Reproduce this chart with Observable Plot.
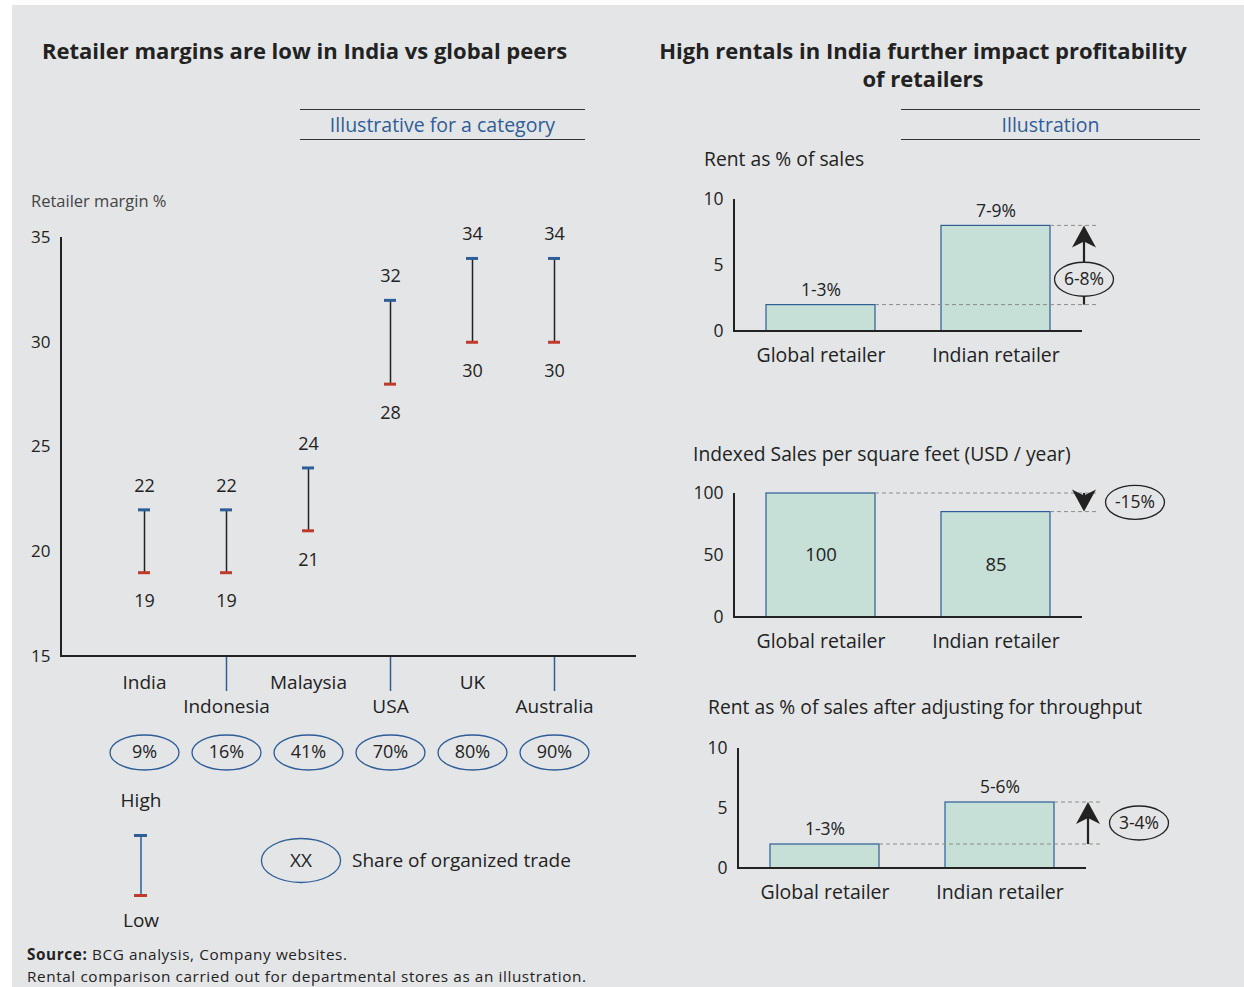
<!DOCTYPE html>
<html>
<head>
<meta charset="utf-8">
<script src="https://cdn.jsdelivr.net/npm/d3@7"></script>
<script src="https://cdn.jsdelivr.net/npm/@observablehq/plot@0.6"></script>
<style>
  body { margin: 0; background: #ffffff; font-family: "Open Sans", Lato, sans-serif; color: #222; }
  #page { position: relative; width: 1244px; height: 987px; overflow: hidden; }
  #panel { position: absolute; left: 12px; top: 5px; width: 1232px; height: 982px; background: #e4e5e7; }
  .t { position: absolute; white-space: nowrap; }
  .title { font-weight: 700; font-size: 22px; line-height: 28px; color: #222; }
  .badge { position: absolute; border-top: 1.5px solid #333; border-bottom: 1.5px solid #333; color: #2e5d97; text-align: center; font-size: 19.5px; line-height: 29px; height: 29px; }
  .sub { font-size: 19.3px; line-height: 22px; color: #222; }
  .src { font-size: 15.3px; line-height: 21px; letter-spacing: 0.6px; color: #222; }
  svg { overflow: visible; }
</style>
</head>
<body>
<div id="page">
  <div id="panel"></div>
  <div class="t title" style="left:42px;top:36px;">Retailer margins are low in India vs global peers</div>
  <div class="t title" style="left:623px;top:36px;width:600px;text-align:center;">High rentals in India further impact profitability<br>of retailers</div>
  <div class="badge" style="left:300px;top:109px;width:285px;">Illustrative for a category</div>
  <div class="badge" style="left:901px;top:109px;width:299px;">Illustration</div>
  <div class="t" style="left:31px;top:191px;font-size:16.5px;line-height:20px;color:#444;">Retailer margin %</div>
  <div class="t sub" style="left:704px;top:148px;">Rent as % of sales</div>
  <div class="t sub" style="left:693px;top:443px;">Indexed Sales per square feet (USD / year)</div>
  <div class="t sub" style="left:708px;top:696px;">Rent as % of sales after adjusting for throughput</div>
  <div class="t src" style="left:27px;top:944px;"><b>Source:</b> BCG analysis, Company websites.</div>
  <div class="t src" style="left:27px;top:966px;">Rental comparison carried out for departmental stores as an illustration.</div>
</div>
<script>
const FONT = "'Open Sans', Lato, sans-serif";
const BLUE = "#2e5d97", RED = "#c0392b", BAR = "#c6dfd7", BG = "#e4e5e7", INK = "#222";

// ---- Left chart data ----
const countries = ["India", "Indonesia", "Malaysia", "USA", "UK", "Australia"];
const marginHigh = [22, 22, 24, 32, 34, 34];
const marginLow = [19, 19, 21, 28, 30, 30];
const organizedShare = [9, 16, 41, 70, 80, 90];
const lowerRowCountries = ["Indonesia", "USA", "Australia"];
const marginTicks = [15, 20, 25, 30, 35];

// ---- Legend ----
const legendLevels = ["High", "Low"];
const legendLevelValues = [1, 0];
const legendKeyText = "XX";
const legendKeyLabel = "Share of organized trade";

// ---- Right charts data ----
const retailers = ["Global retailer", "Indian retailer"];
const rentValues = [2, 8];
const rentLabels = ["1-3%", "7-9%"];
const rentDelta = "6-8%";
const salesValues = [100, 85];
const salesLabels = ["100", "85"];
const salesDelta = "-15%";
const adjValues = [2, 5.5];
const adjLabels = ["1-3%", "5-6%"];
const adjDelta = "3-4%";

const page = document.getElementById("page");
function place(node, left, top) {
  const d = document.createElement("div");
  d.style.cssText = `position:absolute;left:${left}px;top:${top}px;`;
  d.appendChild(node);
  page.appendChild(d);
}

function ellipseSymbol(aspect) {
  return {
    draw(ctx, size) {
      const ry = Math.sqrt(size / Math.PI), rx = ry * aspect, k = 0.5523;
      ctx.moveTo(rx, 0);
      ctx.bezierCurveTo(rx, k * ry, k * rx, ry, 0, ry);
      ctx.bezierCurveTo(-k * rx, ry, -rx, k * ry, -rx, 0);
      ctx.bezierCurveTo(-rx, -k * ry, -k * rx, -ry, 0, -ry);
      ctx.bezierCurveTo(k * rx, -ry, rx, -k * ry, rx, 0);
      ctx.closePath();
    }
  };
}

function frameLines(width = 2) {
  return (index, scales, values, dims) => {
    const p = d3.create("svg:path")
      .attr("d", `M${dims.marginLeft},${dims.marginTop}V${dims.height - dims.marginBottom}H${dims.width - dims.marginRight}`)
      .attr("fill", "none").attr("stroke", INK).attr("stroke-width", width);
    return p.node();
  };
}

// ---- Left chart ----
const rows = countries.map((c, i) => ({country: c, high: marginHigh[i], low: marginLow[i], share: organizedShare[i]}));
const upperRow = rows.filter(d => !lowerRowCountries.includes(d.country));
const lowerRow = rows.filter(d => lowerRowCountries.includes(d.country));

const left = Plot.plot({
  width: 640, height: 580,
  marginTop: 37, marginLeft: 61, marginRight: 4, marginBottom: 124,
  style: {background: "transparent", fontFamily: FONT, fontSize: "18px", color: INK, overflow: "visible"},
  x: {type: "band", domain: countries, paddingInner: 0, paddingOuter: 0.48},
  y: {domain: [15, 35]},
  marks: [
    Plot.axisY({ticks: marginTicks, tickSize: 0, tickPadding: 11, label: null, fontSize: 17}),
    Plot.axisX({ticks: lowerRowCountries, tickSize: 35, tickFormat: () => "", stroke: BLUE, strokeWidth: 1.5, label: null}),
    Plot.text(upperRow, {x: "country", text: "country", frameAnchor: "bottom", lineAnchor: "middle", dy: 26, fontSize: 19}),
    Plot.text(lowerRow, {x: "country", text: "country", frameAnchor: "bottom", lineAnchor: "middle", dy: 50, fontSize: 19}),
    frameLines(2),
    Plot.ruleX(rows, {x: "country", y1: "low", y2: "high", stroke: INK, strokeWidth: 1.5}),
    Plot.tickY(rows, {x: "country", y: "high", stroke: BLUE, strokeWidth: 3, insetLeft: 35, insetRight: 35}),
    Plot.tickY(rows, {x: "country", y: "low", stroke: RED, strokeWidth: 3, insetLeft: 35, insetRight: 35}),
    Plot.text(rows, {x: "country", y: "high", text: d => String(d.high), dy: -24}),
    Plot.text(rows, {x: "country", y: "low", text: d => String(d.low), dy: 29}),
    Plot.dot(rows, {x: "country", frameAnchor: "bottom", dy: 96, r: 17.5, symbol: ellipseSymbol(1.97), fill: "none", stroke: BLUE, strokeWidth: 1.3}),
    Plot.text(rows, {x: "country", frameAnchor: "bottom", lineAnchor: "middle", dy: 96, text: d => d.share + "%", fontSize: 18})
  ]
});
place(left, 0, 200);

// ---- Legend ----
const legendRows = legendLevels.map((l, i) => ({item: "range", label: l, level: legendLevelValues[i]}));
const legend = Plot.plot({
  width: 640, height: 160,
  marginTop: 55, marginBottom: 45, marginLeft: 133.5, marginRight: 332.5,
  style: {background: "transparent", fontFamily: FONT, fontSize: "19px", color: INK, overflow: "visible"},
  x: {type: "band", domain: ["range", "key"], paddingInner: 0.919, paddingOuter: 0, axis: null},
  y: {domain: [0, 1], axis: null},
  marks: [
    Plot.ruleX(["range"], {x: d => d, y1: 0, y2: 1, stroke: BLUE, strokeWidth: 1.5}),
    Plot.tickY(legendRows.filter(d => d.label === "High"), {x: "item", y: "level", stroke: BLUE, strokeWidth: 3}),
    Plot.tickY(legendRows.filter(d => d.label === "Low"), {x: "item", y: "level", stroke: RED, strokeWidth: 3}),
    Plot.text(legendRows.filter(d => d.label === "High"), {x: "item", y: "level", text: "label", dy: -35}),
    Plot.text(legendRows.filter(d => d.label === "Low"), {x: "item", y: "level", text: "label", dy: 25}),
    Plot.dot(["key"], {x: d => d, y: 0.5, dy: -5, r: 22, symbol: ellipseSymbol(1.8), fill: "none", stroke: BLUE, strokeWidth: 1.3}),
    Plot.text([legendKeyText], {x: () => "key", y: 0.5, dy: -5, text: d => d}),
    Plot.text([legendKeyLabel], {x: () => "key", y: 0.5, dy: -5, text: d => d, textAnchor: "start", dx: 51})
  ]
});
place(legend, 0, 780);

// ---- Right charts ----
function deltaAnnotation(values, label, placement) {
  return (index, scales, vals, dims) => {
    const {x, y} = scales;
    const bw = x.bandwidth();
    const right = dims.width - dims.marginRight;
    const xa = right + 2, xd = right + 15;
    const yFrom = y(values[0]), yTo = y(values[1]);
    const g = d3.create("svg:g");
    retailers.forEach((r, i) => {
      g.append("line")
        .attr("x1", x(r) + bw).attr("x2", xd)
        .attr("y1", y(values[i])).attr("y2", y(values[i]))
        .attr("stroke", "#8c8c8c").attr("stroke-width", 1).attr("stroke-dasharray", "4,3");
    });
    const dir = Math.sign(yTo - yFrom);
    const head = 22, hw = 12, notch = 6;
    const yBase = yTo - dir * head;
    g.append("line").attr("x1", xa).attr("x2", xa)
      .attr("y1", yFrom).attr("y2", yTo - dir * head / 2)
      .attr("stroke", INK).attr("stroke-width", 2.2);
    g.append("path")
      .attr("d", `M${xa},${yTo}L${xa + hw},${yBase}L${xa},${yBase + dir * notch}L${xa - hw},${yBase}Z`)
      .attr("fill", INK);
    let cx, cy;
    if (placement === "on") { cx = xa; cy = yFrom + 0.32 * (yTo - yFrom); }
    else { cx = xa + 51; cy = (yFrom + yTo) / 2; }
    g.append("ellipse").attr("cx", cx).attr("cy", cy).attr("rx", 29.5).attr("ry", 17)
      .attr("fill", BG).attr("stroke", INK).attr("stroke-width", 1.3);
    g.append("text").attr("x", cx).attr("y", cy).attr("dy", "0.35em")
      .attr("text-anchor", "middle").attr("font-size", 17.5).attr("fill", INK)
      .attr("font-family", FONT).text(label);
    return g.node();
  };
}

function retailChart({values, labels, delta, placement, yMax, ticks, inside, marginLeft, marginRight, height, marginTop, marginBottom}) {
  const data = retailers.map((r, i) => ({retailer: r, value: values[i], label: labels[i]}));
  return Plot.plot({
    width: 600, height, marginTop, marginBottom, marginLeft, marginRight,
    style: {background: "transparent", fontFamily: FONT, fontSize: "18px", color: INK, overflow: "visible"},
    x: {type: "band", domain: retailers, paddingInner: 0.38, paddingOuter: 0.18, axis: null},
    y: {domain: [0, yMax]},
    marks: [
      Plot.axisY({ticks, tickSize: 0, tickPadding: 11, label: null, fontSize: 17.5}),
      Plot.barY(data, {x: "retailer", y: "value", fill: BAR, stroke: BLUE, strokeWidth: 1.2}),
      inside
        ? Plot.text(data, {x: "retailer", y: d => d.value / 2, text: "label", fontSize: 18.5})
        : Plot.text(data, {x: "retailer", y: "value", text: "label", dy: -15, fontSize: 17.5}),
      Plot.text(data, {x: "retailer", text: "retailer", frameAnchor: "bottom", lineAnchor: "middle", dy: 24, fontSize: 19.5}),
      frameLines(2),
      deltaAnnotation(values, delta, placement)
    ]
  });
}

place(retailChart({values: rentValues, labels: rentLabels, delta: rentDelta, placement: "on", yMax: 10, ticks: [0, 5, 10], inside: false,
  marginLeft: 94, marginRight: 158, height: 195, marginTop: 19, marginBottom: 44}), 640, 180);
place(retailChart({values: salesValues, labels: salesLabels, delta: salesDelta, placement: "right", yMax: 100, ticks: [0, 50, 100], inside: true,
  marginLeft: 94, marginRight: 158, height: 190, marginTop: 18, marginBottom: 48}), 640, 475);
place(retailChart({values: adjValues, labels: adjLabels, delta: adjDelta, placement: "right", yMax: 10, ticks: [0, 5, 10], inside: false,
  marginLeft: 98, marginRight: 154, height: 190, marginTop: 18, marginBottom: 52}), 640, 730);
</script>
</body>
</html>
